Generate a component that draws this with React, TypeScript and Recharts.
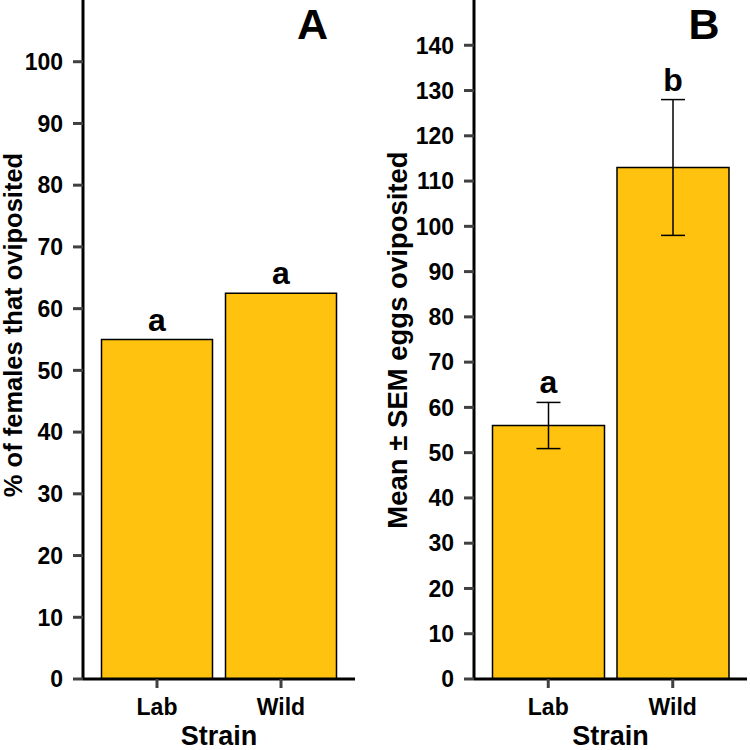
import React from "react";
import { Bar, BarChart, ErrorBar, Label, XAxis, YAxis } from "recharts";

const categories = ["Lab", "Wild"];
const pctOviposited = [55, 62.5];
const meanEggs = [56, 113];
const semEggs = [5.1, 15];
const lettersA = ["a", "a"];
const lettersB = ["a", "b"];
const ticksA = [0, 10, 20, 30, 40, 50, 60, 70, 80, 90, 100];
const ticksB = [0, 10, 20, 30, 40, 50, 60, 70, 80, 90, 100, 110, 120, 130, 140];

const FONT = "'Liberation Sans', Arial, Helvetica, sans-serif";
const GOLD = "#FEC20F";

const dataA = categories.map((c, i) => ({ strain: c, value: pctOviposited[i] }));
const dataB = categories.map((c, i) => ({ strain: c, value: meanEggs[i], err: semEggs[i] }));

// recharts kept shrinking the tick font, so draw tick text ourselves
const yTick = (p: any) => (
  <text x={p.x} y={p.y} dy="0.36em" textAnchor="end" fontSize={23} fontWeight="bold" fontFamily={FONT} fill="#000">
    {p.payload.value}
  </text>
);

const xTick = (p: any) => (
  <text x={p.x} y={p.y} dy="0.72em" textAnchor="middle" fontSize={23} fontWeight="bold" fontFamily={FONT} fill="#000">
    {p.payload.value}
  </text>
);

function letterLabel(letters: string[], errs?: number[]) {
  return (props: any) => {
    const { x, y, width, height, value, index } = props;
    let top = Number(y);
    if (errs && value) top = top - errs[index] * (Number(height) / Number(value));
    return (
      <text
        x={Number(x) + Number(width) / 2}
        y={top - 9}
        textAnchor="middle"
        fontSize={32}
        fontWeight="bold"
        fontFamily={FONT}
        fill="#000"
      >
        {letters[index]}
      </text>
    );
  };
}

function yTitle(text: string, cx: number, cy: number, size: number) {
  return () => (
    <text
      x={cx}
      y={cy}
      transform={`rotate(-90, ${cx}, ${cy})`}
      textAnchor="middle"
      fontSize={size}
      fontWeight="bold"
      fontFamily={FONT}
      fill="#000"
    >
      {text}
    </text>
  );
}

function Panel(props: {
  data: any[];
  yWidth: number;
  right: number;
  domainMax: number;
  ticks: number[];
  title: string;
  titleX: number;
  titleY: number;
  titleSize: number;
  letters: string[];
  errs?: number[];
}) {
  const { data, yWidth, right, domainMax, ticks, title, titleX, titleY, titleSize, letters, errs } = props;
  return (
    <BarChart
      width={375}
      height={750}
      data={data}
      margin={{ top: 0, right, bottom: 0, left: 0 }}
      barCategoryGap={6.5}
    >
      <XAxis
        dataKey="strain"
        height={71}
        padding={{ left: 12, right: 12 }}
        tick={xTick}
        tickSize={9}
        tickMargin={10}
        tickLine={{ stroke: "#404040", strokeWidth: 3 }}
        axisLine={{ stroke: "#000", strokeWidth: 3 }}
      >
        <Label
          value="Strain"
          position="insideBottom"
          offset={5}
          style={{ fill: "#000", fontSize: 27, fontWeight: "bold", fontFamily: FONT }}
        />
      </XAxis>
      <YAxis
        width={yWidth}
        domain={[0, domainMax]}
        ticks={ticks}
        interval={0}
        tick={yTick}
        tickSize={10}
        tickMargin={10}
        tickLine={{ stroke: "#404040", strokeWidth: 3 }}
        axisLine={{ stroke: "#000", strokeWidth: 3 }}
      >
        <Label content={yTitle(title, titleX, titleY, titleSize)} />
      </YAxis>
      <Bar
        dataKey="value"
        fill={GOLD}
        stroke="#000"
        strokeWidth={1.5}
        isAnimationActive={false}
        label={letterLabel(letters, errs)}
      >
        {errs && <ErrorBar dataKey="err" width={12} stroke="#000" strokeWidth={1.5} />}
      </Bar>
    </BarChart>
  );
}

export default function App() {
  return (
    <div style={{ position: "fixed", left: 0, top: 0, width: 750, height: 750, background: "#fff" }}>
      <div style={{ position: "absolute", left: 0, top: 0 }}>
        <Panel
          data={dataA}
          yWidth={83}
          right={20}
          domainMax={110}
          ticks={ticksA}
          title="% of females that oviposited"
          titleX={22}
          titleY={325}
          titleSize={25.5}
          letters={lettersA}
        />
      </div>
      <div style={{ position: "absolute", left: 375, top: 0 }}>
        <Panel
          data={dataB}
          yWidth={99}
          right={3}
          domainMax={150}
          ticks={ticksB}
          title="Mean ± SEM eggs oviposited"
          titleX={32}
          titleY={340}
          titleSize={27.5}
          letters={lettersB}
          errs={semEggs}
        />
      </div>
      <svg width={750} height={750} style={{ position: "absolute", left: 0, top: 0, pointerEvents: "none" }}>
        <text x={312.5} y={39} textAnchor="middle" fontSize={43} fontWeight="bold" fontFamily={FONT} fill="#000">
          A
        </text>
        <text x={704} y={39} textAnchor="middle" fontSize={43} fontWeight="bold" fontFamily={FONT} fill="#000">
          B
        </text>
      </svg>
    </div>
  );
}
